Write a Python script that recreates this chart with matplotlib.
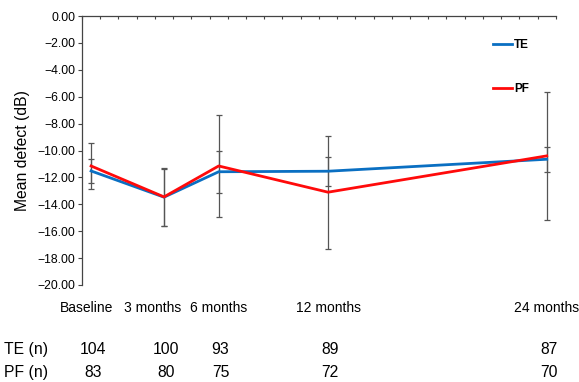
import numpy as np
import matplotlib.pyplot as plt
import matplotlib.transforms as mtransforms

plt.rcParams['font.family'] = ['Liberation Sans', 'DejaVu Sans']

# time points (months; baseline drawn just left of month 0)
timepoints = ['Baseline', '3 months', '6 months', '12 months', '24 months']
months = [-1, 3, 6, 12, 24]
label_x = [-1.25, 2.35, 6, 12, 24]

te_mean = [-11.52, -13.47, -11.58, -11.54, -10.65]
te_sd = [0.92, 2.12, 1.57, 1.08, 0.93]
pf_mean = [-11.15, -13.45, -11.15, -13.10, -10.40]
pf_sd = [1.68, 2.14, 3.80, 4.20, 4.75]

te_n = [104, 100, 93, 89, 87]
pf_n = [83, 80, 75, 72, 70]

blue = '#0A6FC2'
red = '#FF0A0A'
grey = '#555555'

fig = plt.figure(figsize=(5.79, 3.82), dpi=100)
ax = fig.add_axes([0.1416, 0.254, 0.8184, 0.704])

ax.errorbar(months, te_mean, yerr=te_sd, fmt='none', ecolor=grey,
            elinewidth=0.9, capsize=2, capthick=0.9, zorder=2)
ax.errorbar(months, pf_mean, yerr=pf_sd, fmt='none', ecolor=grey,
            elinewidth=0.9, capsize=2, capthick=0.9, zorder=2)
ax.plot(months, te_mean, color=blue, lw=2.0, label='TE', zorder=3)
ax.plot(months, pf_mean, color=red, lw=2.0, label='PF', zorder=4)

ax.set_xlim(-1.5, 24.5)
ax.set_ylim(-20, 0)
ax.set_yticks(np.arange(-20, 0.1, 2))
ax.set_yticklabels([f'{v:.2f}'.replace('-', '\u2212') if v != 0 else '0.00'
                    for v in np.arange(-20, 0.1, 2)], fontsize=8.7)
ax.tick_params(axis='y', direction='out', length=3, width=0.8, color='#444444', pad=2)

# month ticks sit on the top axis line
ax.xaxis.set_ticks_position('top')
ax.set_xticks(np.arange(-1.5, 24.6, 1))
ax.set_xticklabels([])
ax.tick_params(axis='x', direction='in', length=2.5, width=0.8, color='#444444')

for side in ['right', 'bottom']:
    ax.spines[side].set_visible(False)
for side in ['left', 'top']:
    ax.spines[side].set_color('#444444')
    ax.spines[side].set_linewidth(0.9)

ax.set_ylabel('Mean defect (dB)', fontsize=11.3, labelpad=5)

leg = ax.legend(loc='upper right', bbox_to_anchor=(0.965, 0.955), frameon=False,
                handlelength=1.6, handletextpad=0.15, labelspacing=2.75,
                prop={'weight': 'bold', 'size': 8.5})

# time point labels and patient counts under the plot
trans = mtransforms.blended_transform_factory(ax.transData, fig.transFigure)
for x, lab in zip(label_x, timepoints):
    ax.text(x, 0.194, lab, transform=trans, ha='center', va='center', fontsize=10)
for x, a, b in zip(months, te_n, pf_n):
    ax.text(x + 0.1, 0.0838, str(a), transform=trans, ha='center', va='center', fontsize=11.3)
    ax.text(x + 0.1, 0.0236, str(b), transform=trans, ha='center', va='center', fontsize=11.3)
fig.text(0.007, 0.0838, 'TE (n)', ha='left', va='center', fontsize=11.3)
fig.text(0.007, 0.0236, 'PF (n)', ha='left', va='center', fontsize=11.3)

fig.savefig('out.png', dpi=100, facecolor='white')
